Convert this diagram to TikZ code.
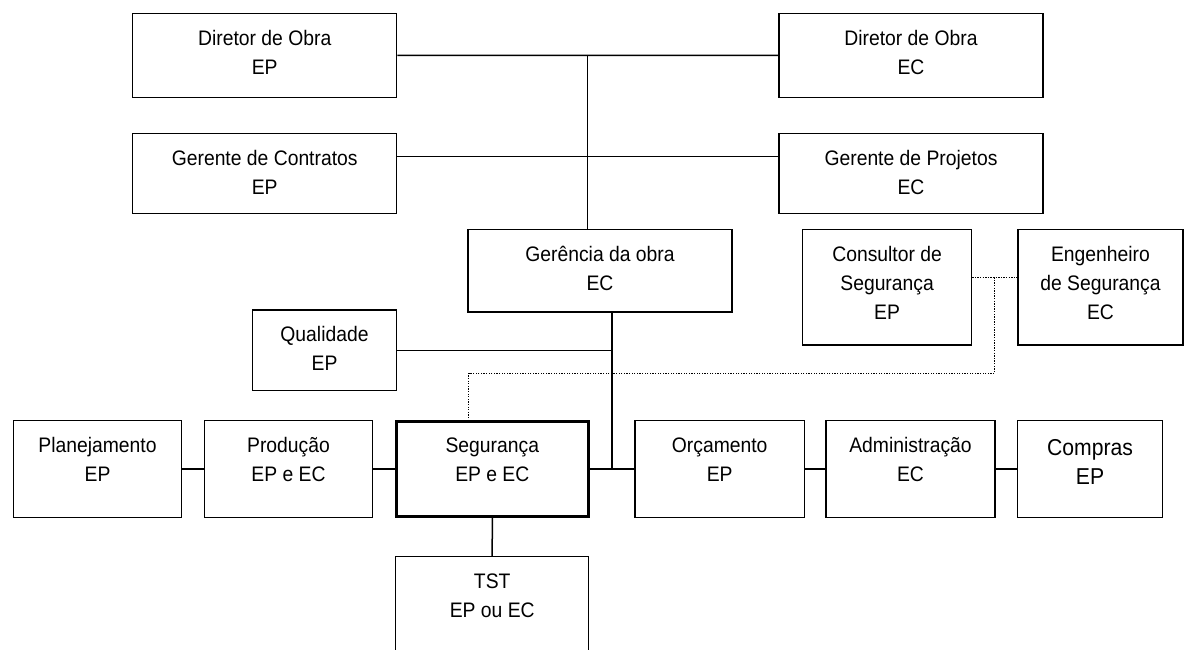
\documentclass[tikz,border=0pt]{standalone}
\usepackage{fontspec}
\setmainfont{Liberation Sans}[FakeStretch=0.92]
% fixed height for the first line of every label
\newcommand{\lnstrut}{\rule{0pt}{20pt}}
\begin{document}
\begin{tikzpicture}[x=1pt,y=-1pt,
  box/.style={draw, line width=1.5pt, inner sep=0pt, rectangle},
  keybox/.style={draw, line width=3.2pt, inner sep=0pt, rectangle},
  txt/.style={anchor=north, inner sep=0pt, align=center,
              font=\fontsize{21}{29}\selectfont, yshift=-12.5pt},
  bigtxt/.style={anchor=north, inner sep=0pt, align=center,
              font=\fontsize{23}{29}\selectfont, yshift=-15.3pt},
  link/.style={line width=1.5pt},
  dots/.style={line width=1.3pt, dash pattern=on 1.3pt off 1.3pt}]
\useasboundingbox (0,0) rectangle (1184,650);
\clip (0,0) rectangle (1184,650);

% top management
\node[box, minimum width=264pt, minimum height=84pt] (dEP) at (264.7,55.3) {};
\node[txt] (dEPt) at (dEP.north) {\lnstrut Diretor de Obra\\EP};
\node[box, minimum width=264pt, minimum height=84pt] (dEC) at (911,55.5) {};
\node[txt] (dECt) at (dEC.north) {\lnstrut Diretor de Obra\\EC};
\node[box, minimum width=264pt, minimum height=80pt] (gC) at (264.7,173.3) {};
\node[txt] (gCt) at (gC.north) {\lnstrut Gerente de Contratos\\EP};
\node[box, minimum width=264pt, minimum height=80pt] (gP) at (911,173.3) {};
\node[txt] (gPt) at (gP.north) {\lnstrut Gerente de Projetos\\EC};

% site management and safety staff
\node[box, minimum width=264pt, minimum height=82.7pt] (ger) at (600,270.7) {};
\node[txt] (gert) at (ger.north) {\lnstrut Ger\^encia da obra\\EC};
\node[box, minimum width=168.8pt, minimum height=115.7pt] (cons) at (887.1,287.2) {};
\node[txt] (const) at (cons.north) {\lnstrut Consultor de\\Seguran\c{c}a\\EP};
\node[box, minimum width=165pt, minimum height=115.7pt] (eng) at (1100.5,287.2) {};
\node[txt] (engt) at (eng.north) {\lnstrut Engenheiro\\de Seguran\c{c}a\\EC};
\node[box, minimum width=144.4pt, minimum height=80.7pt] (qual) at (324.5,350.3) {};
\node[txt] (qualt) at (qual.north) {\lnstrut Qualidade\\EP};

% departments
\node[box, minimum width=168.4pt, minimum height=96.6pt] (plan) at (97.5,469) {};
\node[txt] (plant) at (plan.north) {\lnstrut Planejamento\\EP};
\node[box, minimum width=168.4pt, minimum height=96.6pt] (prod) at (288.5,469) {};
\node[txt] (prodt) at (prod.north) {\lnstrut Produ\c{c}\~ao\\EP e EC};
\node[keybox, minimum width=191.7pt, minimum height=95pt] (seg) at (492.3,469) {};
\node[txt] (segt) at (seg.north) {\lnstrut Seguran\c{c}a\\EP e EC};
\node[box, minimum width=169.3pt, minimum height=96.6pt] (orc) at (719.7,469) {};
\node[txt] (orct) at (orc.north) {\lnstrut Or\c{c}amento\\EP};
\node[box, minimum width=169pt, minimum height=96.6pt] (adm) at (910.5,469) {};
\node[txt] (admt) at (adm.north) {\lnstrut Administra\c{c}\~ao\\EC};
\node[box, minimum width=144.6pt, minimum height=96.6pt] (comp) at (1090,469) {};
\node[bigtxt] (compt) at (comp.north) {\lnstrut Compras\\EP};
\node[box, minimum width=193pt, minimum height=113.3pt] (tst) at (492.2,613.3) {};
\node[txt] (tstt) at (tst.north) {\lnstrut TST\\EP ou EC};

% solid links
\draw[link] (dEP.east) -- (dEC.west);
\draw[link] ([yshift=16.6pt]gC.east) -- ([yshift=16.6pt]gP.west);
\coordinate (jTop) at (587.7,55.3);
\draw[link] (jTop) -- (jTop |- ger.north);
\coordinate (gx) at ([xshift=12pt]ger.south);
\draw[link] (gx) -- (gx |- seg.east);
\draw[link] (qual.east) -- (qual.east -| gx);
\draw[link] (plan.east) -- (prod.west);
\draw[link] (prod.east) -- (seg.west);
\draw[link] (seg.east) -- (orc.west);
\draw[link] (orc.east) -- (adm.west);
\draw[link] (adm.east) -- (comp.west);
\draw[link] (seg.south) -- (tst.north);

% dotted advisory links
\draw[dots] ([yshift=10pt]cons.east) -- ([yshift=10pt]eng.west);
\coordinate (dTop) at (994.3,277.2);
\coordinate (dBend) at (994.3,373.3);
\draw[dots] (dTop) -- (dBend) -| ([xshift=-23.8pt]seg.north);
\end{tikzpicture}
\end{document}
